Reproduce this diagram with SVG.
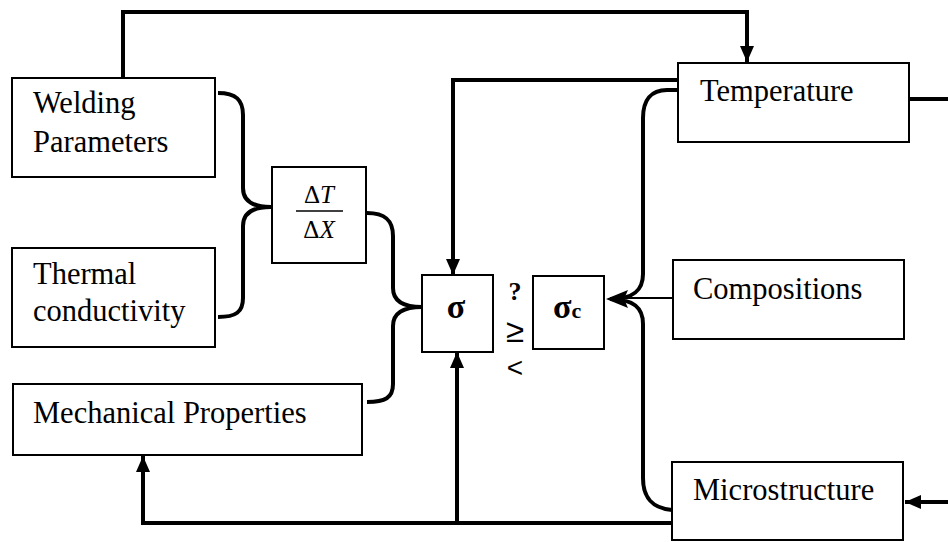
<svg xmlns="http://www.w3.org/2000/svg" width="948" height="542" viewBox="0 0 948 542">
  <style>
    .box { fill: #fff; stroke: #000; stroke-width: 2; }
    .lbl { font-family: "Liberation Serif", "Times New Roman", serif; font-size: 30.5px; fill: #000; }
    .sym { font-family: "Liberation Serif", "Times New Roman", serif; font-weight: bold; fill: #000; }
    .wire { fill: none; stroke: #000; stroke-width: 4; stroke-linejoin: miter; }
    .thin { fill: none; stroke: #000; stroke-width: 2; }
  </style>
  <defs>
    <marker id="arrow" markerUnits="userSpaceOnUse" markerWidth="16" markerHeight="16" viewBox="0 0 16 16" refX="16" refY="8" orient="auto">
      <path d="M0,1 L16,8 L0,15 Z" fill="#000"/>
    </marker>
  </defs>

  <rect width="948" height="542" fill="#fff"/>

  <g id="connectors">
    <!-- welding parameters feed temperature -->
    <path class="wire" d="M123,78 L123,12 L747,12 L747,62" marker-end="url(#arrow)"/>
    <!-- temperature feeds stress -->
    <path class="wire" d="M678,80 L453,80 L453,275" marker-end="url(#arrow)"/>
    <!-- temperature out to the right -->
    <path class="wire" d="M909,99 L948,99"/>
    <!-- into microstructure from the right -->
    <path class="wire" d="M948,502 L905,502" marker-end="url(#arrow)"/>
    <!-- bottom return line -->
    <path class="wire" d="M672,523 L143,523 L143,456" marker-end="url(#arrow)"/>
    <path class="wire" d="M457,523 L457,352" marker-end="url(#arrow)"/>

    <!-- brace: welding parameters + thermal conductivity -> dT/dX -->
    <path class="wire" d="M218,93 C236,93 243,100 243,115 L243,188 C243,200 252,207 271,207 C252,207 243,214 243,226 L243,298 C243,312 236,317 218,317"/>
    <!-- brace: dT/dX + mechanical properties -> sigma -->
    <path class="wire" d="M367,213 C385,213 393,220 393,236 L393,288 C393,300 402,307 422,307 C402,307 393,314 393,326 L393,384 C393,398 385,402 367,402"/>

    <!-- brace: temperature + microstructure -> sigma_c -->
    <path class="wire" d="M678,90 L667,90 C651,90 643,100 643,118 L643,274 C643,290 634,299 610,299 C634,299 643,308 643,324 L643,478 C643,498 652,508 672,510"/>
    <!-- compositions -> sigma_c -->
    <path class="thin" d="M673,298 L620,298"/>
    <path d="M606,299 L628,290 L624,299 L628,308 Z" fill="#000"/>
  </g>

  <g id="welding-parameters">
    <rect class="box" x="12" y="78" width="203" height="99"/>
    <text class="lbl" x="33" y="113">Welding</text>
    <text class="lbl" x="33" y="152">Parameters</text>
  </g>

  <g id="thermal-conductivity">
    <rect class="box" x="12" y="248" width="203" height="99"/>
    <text class="lbl" x="33" y="284">Thermal</text>
    <text class="lbl" x="33" y="321">conductivity</text>
  </g>

  <g id="mechanical-properties">
    <rect class="box" x="13" y="384" width="349" height="71"/>
    <text class="lbl" x="33" y="423">Mechanical Properties</text>
  </g>

  <g id="gradient">
    <rect class="box" x="272" y="167" width="94" height="96"/>
    <text class="lbl" x="319" y="203" text-anchor="middle" style="font-size:25px">Δ<tspan font-style="italic">T</tspan></text>
    <line x1="296" y1="211" x2="343" y2="211" stroke="#000" stroke-width="1.5"/>
    <text class="lbl" x="319" y="238" text-anchor="middle" style="font-size:25px">Δ<tspan font-style="italic">X</tspan></text>
  </g>

  <g id="stress">
    <rect class="box" x="422" y="275" width="71" height="77"/>
    <text class="sym" x="456" y="318" text-anchor="middle" font-size="34">σ</text>
  </g>

  <g id="comparison">
    <text class="sym" x="515" y="300" text-anchor="middle" font-size="26">?</text>
    <text x="515" y="342" text-anchor="middle" font-family="Liberation Sans, Arial, sans-serif" font-size="33" fill="#000">≥</text>
    <text x="515" y="377" text-anchor="middle" font-family="Liberation Sans, Arial, sans-serif" font-size="28" fill="#000">&lt;</text>
  </g>

  <g id="critical-stress">
    <rect class="box" x="533" y="276" width="71" height="73"/>
    <text class="sym" x="553" y="318" font-size="34">σ<tspan font-size="22">c</tspan></text>
  </g>

  <g id="temperature">
    <rect class="box" x="678" y="63" width="231" height="79"/>
    <text class="lbl" x="700" y="101">Temperature</text>
  </g>

  <g id="compositions">
    <rect class="box" x="673" y="260" width="231" height="79"/>
    <text class="lbl" x="693" y="299">Compositions</text>
  </g>

  <g id="microstructure">
    <rect class="box" x="672" y="462" width="231" height="78"/>
    <text class="lbl" x="693" y="500">Microstructure</text>
  </g>
</svg>
